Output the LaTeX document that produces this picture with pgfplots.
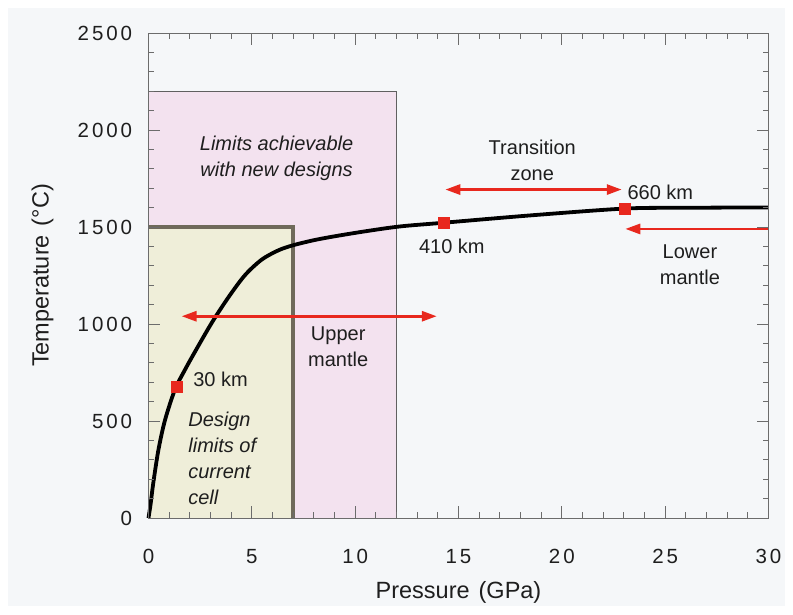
\documentclass[border=0pt]{standalone}
\usepackage{fontspec}
\setmainfont{Liberation Sans}
\newfontfamily\tickfont[LetterSpace=14]{Liberation Sans}
\usepackage{pgfplots}
\pgfplotsset{compat=1.18}
\usetikzlibrary{arrows.meta}
\definecolor{bgc}{HTML}{F5F7F9}
\definecolor{pinkfill}{HTML}{F3E2EF}
\definecolor{olivefill}{HTML}{EFEED9}
\definecolor{oliveline}{HTML}{6F6A5A}
\definecolor{arrred}{HTML}{E8281E}
\definecolor{txt}{HTML}{1E1E1E}
\begin{document}
\begin{tikzpicture}
\path[use as bounding box, fill=white] (-148.5pt,-96pt) rectangle (644.5pt,518pt);
\fill[bgc] (-140.5pt,-88pt) rectangle (636.5pt,510pt);
\begin{axis}[
  at={(0,0)}, anchor=south west,
  scale only axis, width=620pt, height=485pt,
  xmin=0, xmax=30, ymin=0, ymax=2500,
  xtick={0,5,...,30}, ytick={0,500,...,2500},
  minor x tick num=4, minor y tick num=4,
  tick align=inside,
  major tick length=12pt, minor tick length=6pt,
  axis line style={draw=gray!85!black, line width=1pt},
  tick style={draw=gray!85!black, line width=0.9pt},
  axis on top,
  /pgf/number format/1000 sep={},
  /pgf/number format/assume math mode=true,
  tick label style={font=\tickfont\fontsize{20.5}{23}\selectfont, text=txt},
  xticklabel style={yshift=-28pt},
  yticklabel style={xshift=-13pt},
  xlabel={Pressure\hspace{9pt}(GPa)},
  ylabel={Temperature\hspace{9pt}(°C)},
  label style={font=\fontsize{23.5}{27}\selectfont, text=txt},
  xlabel style={at={(axis description cs:0.5,-0.153)}, anchor=center},
  ylabel style={at={(axis description cs:-0.171,0.50)}, anchor=center},
  clip=false,
]
% pink region: limits achievable with new designs
\addplot[draw=none, fill=pinkfill] coordinates {(0,2200) (12,2200)} \closedcycle;
\addplot[draw=gray!75!black, line width=1.3pt] coordinates {(0,2200) (12,2200) (12,0)};
% olive region: design limits of current cell
\addplot[draw=none, fill=olivefill] coordinates {(0,1500) (7,1500)} \closedcycle;
\addplot[draw=oliveline, line width=4pt] coordinates {(0,1500) (7,1500) (7,0)};
% geotherm
\addplot[black, line width=3.8pt, smooth] coordinates {
(0,0) (0.1,70) (0.23,179) (0.48,351) (0.8,505) (1.28,662) (1.77,765) (2.25,857)
(3.06,1006) (3.87,1138) (4.67,1252) (5.48,1332) (6.29,1380) (7.0,1406)
(8.0,1432) (9.0,1452) (10.5,1478) (12.18,1503) (14.28,1522) (18.5,1560) (23.04,1595)
(26,1599) (30,1601)};
% depth markers
\addplot[only marks, mark=square*, mark size=5.3pt, color=arrred] coordinates {(1.37,677) (14.28,1522) (23.04,1595)};
% arrows
\addplot[arrred, line width=2.8pt, {Triangle[length=15pt,width=10pt]}-{Triangle[length=15pt,width=10pt]}] coordinates {(1.6,1040) (13.95,1040)};
\addplot[arrred, line width=2.8pt, {Triangle[length=15pt,width=10pt]}-{Triangle[length=15pt,width=10pt]}] coordinates {(14.36,1693) (22.9,1693)};
\addplot[arrred, line width=2.8pt, {Triangle[length=15pt,width=10pt]}-] coordinates {(23.07,1490) (30,1490)};
% annotations
\begin{scope}[every node/.style={font=\fontsize{20}{26}\selectfont, text=txt, align=center, inner sep=0pt}]
\node at (axis cs:6.2,1856) {\itshape Limits achievable\\\itshape with new designs};
\node at (axis cs:18.57,1845) {Transition\\zone};
\node[anchor=west] at (axis cs:23.17,1680) {660 km};
\node at (axis cs:14.68,1400) {410 km};
\node at (axis cs:26.2,1304) {Lower\\mantle};
\node at (axis cs:9.18,882) {Upper\\mantle};
\node[anchor=west] at (axis cs:2.16,716) {30 km};
\node[anchor=west, align=left] at (axis cs:1.92,309) {\itshape Design\\\itshape limits of\\\itshape current\\\itshape cell};
\end{scope}
\end{axis}
\end{tikzpicture}
\end{document}
